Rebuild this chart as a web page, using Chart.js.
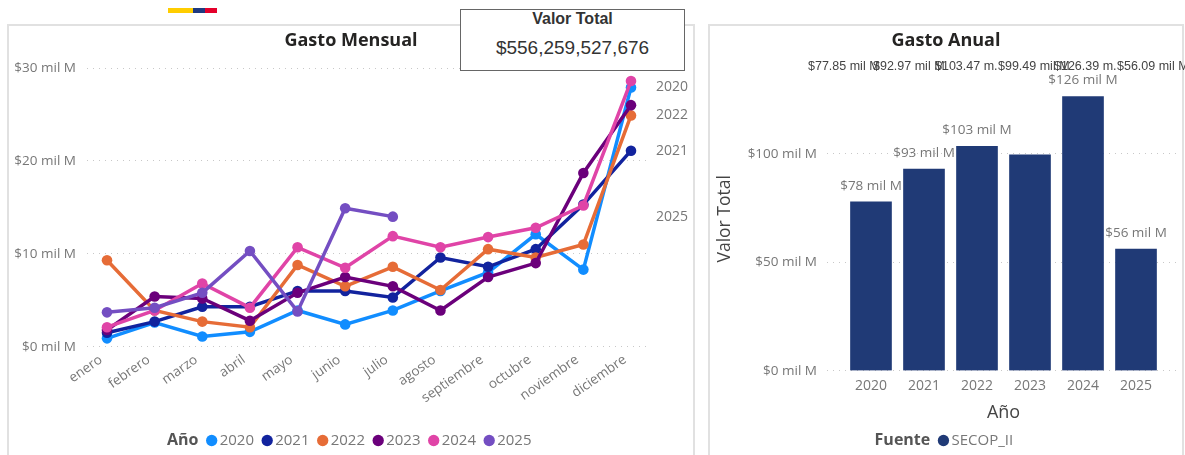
<!DOCTYPE html>
<html>
<head>
<meta charset="utf-8">
<title>Gasto</title>
<script src="https://cdn.jsdelivr.net/npm/chart.js@4/dist/chart.umd.min.js"></script>
<style>
  html, body { margin: 0; background: #fff; overflow: hidden; width: 1185px; height: 455px; }
  .card { position: absolute; top: 24px; height: 440px; border: 2px solid #e1e1e1; box-sizing: border-box; }
  canvas { position: absolute; top: 0; }
  .flag { position: absolute; top: 8px; height: 5px; }
  #kpi { position: absolute; left: 460px; top: 9px; width: 225px; height: 62px; box-sizing: border-box;
         background: #fff; border: 1px solid #666; text-align: center; font-family: "Liberation Sans", Arial, sans-serif; color: #333; }
  #kpi b { position: absolute; left: 0; right: 0; top: 0; font-size: 16px; line-height: 18px; }
  #kpi span { position: absolute; left: 0; right: 0; top: 27px; font-size: 19px; line-height: 22px; }
</style>
</head>
<body>
<div class="card" style="left:7px;width:688px"></div>
<div class="card" style="left:708px;width:476px"></div>
<div class="flag" style="left:168px;width:25px;background:#ffcd00"></div>
<div class="flag" style="left:193px;width:12px;background:#1f3a80"></div>
<div class="flag" style="left:205px;width:12px;background:#e4002b"></div>
<canvas id="mensual" width="702" height="458" style="left:0"></canvas>
<canvas id="anual" width="477" height="458" style="left:708px"></canvas>
<div id="kpi"><b>Valor Total</b><span>$556,259,527,676</span></div>
<script>
const FONT = '"Open Sans", "Noto Sans", sans-serif';
const GRIS = '#777';

const meses = ['enero', 'febrero', 'marzo', 'abril', 'mayo', 'junio', 'julio', 'agosto', 'septiembre', 'octubre', 'noviembre', 'diciembre'];
const gasto2020 = [0.9, 2.6, 1.1, 1.6, 3.9, 2.4, 3.9, 6.0, 8.0, 12.1, 8.3, 27.9];
const gasto2021 = [1.5, 2.7, 4.3, 4.3, 6.0, 6.0, 5.3, 9.6, 8.6, 10.5, 15.3, 21.1];
const gasto2022 = [9.3, 3.9, 2.7, 2.1, 8.8, 6.5, 8.6, 6.1, 10.5, 9.6, 11.0, 24.9];
const gasto2023 = [1.8, 5.4, 5.2, 2.8, 5.8, 7.5, 6.5, 3.9, 7.5, 9.0, 18.7, 26.0];
const gasto2024 = [2.1, 3.9, 6.8, 4.2, 10.7, 8.5, 11.9, 10.7, 11.8, 12.8, 15.2, 28.6];
const gasto2025 = [3.7, 4.2, 5.8, 10.3, 3.8, 14.9, 14.0, null, null, null, null, null];
const ticksMensual = ['$0 mil M', '$10 mil M', '$20 mil M', '$30 mil M'];
const etiquetasFin = ['2020', '2021', '2022', '2025'];

const anios = [2020, 2021, 2022, 2023, 2024, 2025];
const totalAnual = [77.85, 92.97, 103.47, 99.49, 126.39, 56.09];
// the 2023 bar has no label in the report
const etiquetasBarra = ['$78 mil M', '$93 mil M', '$103 mil M', '', '$126 mil M', '$56 mil M'];
const etiquetasFila = ['$77.85 mil M', '$92.97 mil M', '$103.47 m.', '$99.49 mil M', '$126.39 m.', '$56.09 mil M'];
const inicioFila = [808, 873, 935, 998, 1054, 1117];

const series = [
  { label: '2020', data: gasto2020, color: '#118dff' },
  { label: '2021', data: gasto2021, color: '#12239e' },
  { label: '2022', data: gasto2022, color: '#e66c37' },
  { label: '2023', data: gasto2023, color: '#6b007b' },
  { label: '2024', data: gasto2024, color: '#e044a7' },
  { label: '2025', data: gasto2025, color: '#744ec2' }
];

// first legend item is blank, it only reserves room for the bold title drawn by tituloLeyenda
function leyenda(titulo, espacios) {
  return {
    position: 'bottom',
    titulo,
    labels: {
      usePointStyle: true, pointStyle: 'circle', boxWidth: 1, boxHeight: 8, padding: 12.7,
      color: GRIS, font: { family: FONT, size: 15 },
      generateLabels(chart) {
        const items = Chart.defaults.plugins.legend.labels.generateLabels(chart);
        items.sort((a, b) => a.text.localeCompare(b.text));
        items.forEach(it => { it.fontColor = GRIS; });
        return [{ text: ' '.repeat(espacios), fillStyle: 'transparent', strokeStyle: 'transparent', fontColor: 'transparent', lineWidth: 0, pointStyle: 'circle' }, ...items];
      }
    }
  };
}

function texto(ctx, str, x, y, font, color, align) {
  ctx.save();
  ctx.font = font;
  ctx.fillStyle = color;
  ctx.textAlign = align;
  ctx.textBaseline = 'middle';
  ctx.fillText(str, x, y);
  ctx.restore();
}

const tituloLeyenda = {
  id: 'tituloLeyenda',
  afterDraw(chart) {
    const box = chart.legend.legendHitBoxes[0];
    texto(chart.ctx, chart.options.plugins.legend.titulo, box.left + box.width, box.top + box.height / 2, 'bold 16px ' + FONT, '#555', 'right');
  }
};

const finDeLinea = {
  id: 'finDeLinea',
  afterDatasetsDraw(chart) {
    const y = chart.scales.y;
    series.forEach(s => {
      if (!etiquetasFin.includes(s.label)) return;
      const ultimo = s.data.filter(v => v !== null).pop();
      texto(chart.ctx, s.label, chart.chartArea.right + 5, y.getPixelForValue(ultimo), '14px ' + FONT, GRIS, 'left');
    });
  }
};

const etiquetasAnual = {
  id: 'etiquetasAnual',
  afterDatasetsDraw(chart) {
    const { x, y } = chart.scales;
    anios.forEach((a, i) => {
      texto(chart.ctx, etiquetasBarra[i], x.getPixelForValue(a), y.getPixelForValue(totalAnual[i]) - 16, '13.5px ' + FONT, GRIS, 'center');
      texto(chart.ctx, etiquetasFila[i], inicioFila[i] - 708, 67, '12.5px "Liberation Sans", Arial, sans-serif', '#444', 'left');
    });
  }
};

new Chart(document.getElementById('mensual'), {
  type: 'line',
  data: {
    datasets: series.map((s, i) => ({
      label: s.label,
      data: s.data.map((v, m) => ({ x: m, y: v })),
      yAxisID: 'y',
      borderColor: s.color,
      backgroundColor: s.color,
      pointBackgroundColor: s.color,
      pointBorderWidth: 0,
      borderWidth: 3.5,
      pointRadius: 5.3,
      tension: 0,
      clip: false,
      order: series.length - i
    }))
  },
  plugins: [tituloLeyenda, finDeLinea],
  options: {
    responsive: false,
    animation: false,
    layout: { padding: { left: 0, right: 0, top: 30, bottom: 0 } },
    plugins: {
      tooltip: { enabled: false },
      title: { display: true, text: 'Gasto Mensual', color: '#252423', font: { family: FONT, size: 18, weight: 'bold' }, padding: { top: 0, bottom: 16.4 } },
      legend: leyenda('Año', 5)
    },
    scales: {
      x: {
        type: 'linear', min: -0.42, max: 11.42,
        grid: { display: false, drawTicks: false }, border: { display: false },
        afterFit(scale) { scale.height = 73.6; },
        ticks: {
          stepSize: 1, includeBounds: false, autoSkip: false, maxRotation: 35, minRotation: 35,
          color: GRIS, font: { family: FONT, size: 13.5 }, padding: 5, labelOffset: -6,
          callback: v => meses[v]
        }
      },
      y: {
        min: 0, max: 30,
        afterFit(scale) { scale.width = 87; },
        grid: { color: '#c8c8c8', drawTicks: false }, border: { display: false, dash: [1, 5] },
        ticks: {
          stepSize: 10, color: GRIS, font: { family: FONT, size: 13.5 }, padding: 11,
          callback: v => ticksMensual[v / 10]
        }
      },
      // empty axis, keeps the room for the line-end labels
      margen: {
        position: 'right', grid: { display: false }, border: { display: false }, ticks: { display: false },
        afterFit(scale) { scale.width = 51; }
      }
    }
  }
});

new Chart(document.getElementById('anual'), {
  type: 'bar',
  data: {
    datasets: [{
      label: 'SECOP_II',
      data: anios.map((a, i) => ({ x: a, y: totalAnual[i] })),
      backgroundColor: '#203a76',
      barThickness: 41
    }]
  },
  plugins: [tituloLeyenda, etiquetasAnual],
  options: {
    responsive: false,
    animation: false,
    layout: { padding: { left: 4, right: 5, top: 30, bottom: 0 } },
    plugins: {
      tooltip: { enabled: false },
      title: { display: true, text: 'Gasto Anual', color: '#252423', font: { family: FONT, size: 18, weight: 'bold' }, padding: { top: 0, bottom: 15.4 } },
      legend: leyenda('Fuente', 11)
    },
    scales: {
      x: {
        type: 'linear', offset: false, min: 2019.17, max: 2025.83,
        grid: { display: false, drawTicks: false }, border: { display: false },
        afterFit(scale) { scale.height = 49.6; },
        title: { display: true, text: 'Año', color: '#444', font: { family: FONT, size: 18 }, padding: { top: 0, bottom: -3 } },
        ticks: {
          stepSize: 1, includeBounds: false, autoSkip: false, maxRotation: 0,
          color: GRIS, font: { family: FONT, size: 14 }, padding: 7,
          callback: v => String(v)
        }
      },
      y: {
        min: 0, max: 140,
        afterFit(scale) { scale.width = 115; },
        grid: { color: '#c8c8c8', drawTicks: false }, border: { display: false, dash: [1, 5] },
        title: { display: true, text: 'Valor Total', color: '#444', font: { family: FONT, size: 17.5 }, padding: { top: 3, bottom: 0 } },
        ticks: {
          stepSize: 50, includeBounds: false, color: GRIS, font: { family: FONT, size: 13.5 }, padding: 10,
          callback: v => '$' + v + ' mil M'
        }
      }
    }
  }
});
</script>
</body>
</html>
